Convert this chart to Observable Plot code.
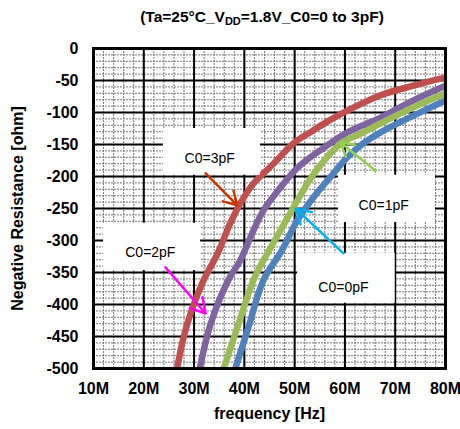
<!DOCTYPE html>
<html>
<head>
<meta charset="utf-8">
<script src="https://cdn.jsdelivr.net/npm/d3@7"></script>
<script src="https://cdn.jsdelivr.net/npm/@observablehq/plot@0.6"></script>
<style>
  html, body { margin: 0; padding: 0; background: #fff; }
  #wrap { position: relative; width: 460px; height: 429px; font-family: "Liberation Sans", Arial, sans-serif; }
  #title { position: absolute; left: 0; width: 524px; top: 8px; text-align: center; font-weight: bold; font-size: 15.5px; color: #000; }
  #title sub { font-size: 11px; vertical-align: -3px; line-height: 0; }
</style>
</head>
<body>
<div id="wrap">
  <div id="chart"></div>
  <div id="title">(Ta=25°C_V<sub>DD</sub>=1.8V_C0=0 to 3pF)</div>
</div>
<script>
// Tick values
const xTicks = [10, 20, 30, 40, 50, 60, 70, 80];
const yTicks = [0, -50, -100, -150, -200, -250, -300, -350, -400, -450, -500];
const xMinor = d3.range(10, 80.001, 2);
const yMinor = d3.range(-500, 0.001, 10);

// Series: frequency [MHz] and negative resistance [ohm]
const c3F = [26.5, 27.8, 29.3, 31.9, 34.7, 37.2, 39.2, 41.8, 45.8, 49.8, 53.7, 57.0, 60.5, 67.1, 73.6, 80];
const c3R = [-505, -455, -414, -362, -320, -273, -242, -211, -180, -148, -128, -112, -97, -73, -58, -45];

const c2F = [31.0, 33.3, 36.8, 39.2, 41.2, 43.8, 47.2, 50.6, 55.1, 60.5, 67.1, 73.6, 80];
const c2R = [-505, -430, -362, -331, -295, -253, -217, -186, -159, -131, -108, -81, -58];

const c1F = [35.7, 38.6, 41.8, 43.8, 47.2, 50.5, 53.8, 59.1, 63.7, 67.1, 73.6, 80];
const c1R = [-505, -436, -362, -331, -284, -238, -196, -149, -131, -117, -92, -70];

const c0F = [38.0, 40.8, 43.8, 47.5, 50.5, 53.8, 57.1, 60.5, 63.7, 67.1, 73.6, 80];
const c0R = [-505, -436, -362, -315, -269, -232, -201, -170, -148, -131, -105, -81];

const seriesNames = ["C0=3pF", "C0=2pF", "C0=1pF", "C0=0pF"];
const seriesColors = ["#C0504D", "#8064A2", "#9BBB59", "#4F81BD"];
const seriesF = [c3F, c2F, c1F, c0F];
const seriesR = [c3R, c2R, c1R, c0R];

// Annotation callouts (in data units): box corners, text anchor, arrow start/end
const noteLabels = ["C0=3pF", "C0=2pF", "C0=1pF", "C0=0pF"];
const noteBoxF1 = [23.9, 12.0, 58.7, 50.6];
const noteBoxF2 = [43.2, 31.3, 78.0, 70.0];
const noteBoxR1 = [-125, -273, -198, -320];
const noteBoxR2 = [-198, -347, -272, -398];
const noteTextF = [33.1, 21.3, 67.7, 59.7];
const noteTextR = [-172, -319, -245, -373];
const noteArrowF1 = [32.3, 24.3, 66.1, 59.7];
const noteArrowR1 = [-195, -342, -191, -320];
const noteArrowF2 = [38.6, 32.3, 59.1, 50.2];
const noteArrowR2 = [-245, -414, -147, -250];
const noteColors = ["#CC3300", "#FF00FF", "#92D050", "#00B0F0"];

const lineData = seriesNames.flatMap((name, i) =>
  seriesF[i].map((f, j) => ({series: name, f, r: seriesR[i][j], color: seriesColors[i]})));
const notes = noteLabels.map((label, i) => ({
  label,
  bf1: noteBoxF1[i], bf2: noteBoxF2[i], br1: noteBoxR1[i], br2: noteBoxR2[i],
  tf: noteTextF[i], tr: noteTextR[i],
  af1: noteArrowF1[i], ar1: noteArrowR1[i], af2: noteArrowF2[i], ar2: noteArrowR2[i],
  color: noteColors[i]
}));

const chart = Plot.plot({
  width: 460,
  height: 429,
  marginLeft: 93,
  marginRight: 15,
  marginTop: 48,
  marginBottom: 61,
  style: {fontFamily: "'Liberation Sans', Arial, sans-serif", fontSize: "16px", fontWeight: "bold", color: "#000", background: "#fff"},
  x: {domain: [10, 80]},
  y: {domain: [-500, 0]},
  marks: [
    Plot.ruleX(xMinor, {stroke: "#777", strokeWidth: 1, strokeDasharray: "2,1"}),
    Plot.ruleY(yMinor, {stroke: "#777", strokeWidth: 1, strokeDasharray: "2,1"}),
    Plot.ruleX(xTicks, {stroke: "#000", strokeWidth: 2}),
    Plot.ruleY(yTicks, {stroke: "#000", strokeWidth: 2}),
    Plot.line(lineData, {x: "f", y: "r", z: "series", stroke: "color", strokeWidth: 6.5, clip: true, curve: "catmull-rom", strokeLinejoin: "round"}),
    Plot.rect(notes, {x1: "bf1", x2: "bf2", y1: "br1", y2: "br2", fill: "white"}),
    Plot.text(notes, {x: "tf", y: "tr", text: "label", fontSize: 14, fontWeight: "normal", fill: "#000"}),
    Plot.arrow(notes, {x1: "af1", y1: "ar1", x2: "af2", y2: "ar2", stroke: "color", strokeWidth: 2.5, headLength: 10}),
    Plot.frame({stroke: "#000", strokeWidth: 3}),
    Plot.axisX(xTicks, {tickFormat: d => d + "M", tickSize: 0, tickPadding: 14, label: null}),
    Plot.axisY(yTicks, {tickFormat: d => String(d), tickSize: 0, tickPadding: 15, label: null}),
    Plot.text(["frequency [Hz]"], {frameAnchor: "bottom", lineAnchor: "middle", dy: 45, fontSize: 16, fontWeight: "bold"}),
    Plot.text(["Negative Resistance [ohm]"], {frameAnchor: "middle", textAnchor: "middle", lineAnchor: "middle", dx: -252, rotate: -90, fontSize: 16, fontWeight: "bold"})
  ]
});
document.getElementById("chart").appendChild(chart);
</script>
</body>
</html>
